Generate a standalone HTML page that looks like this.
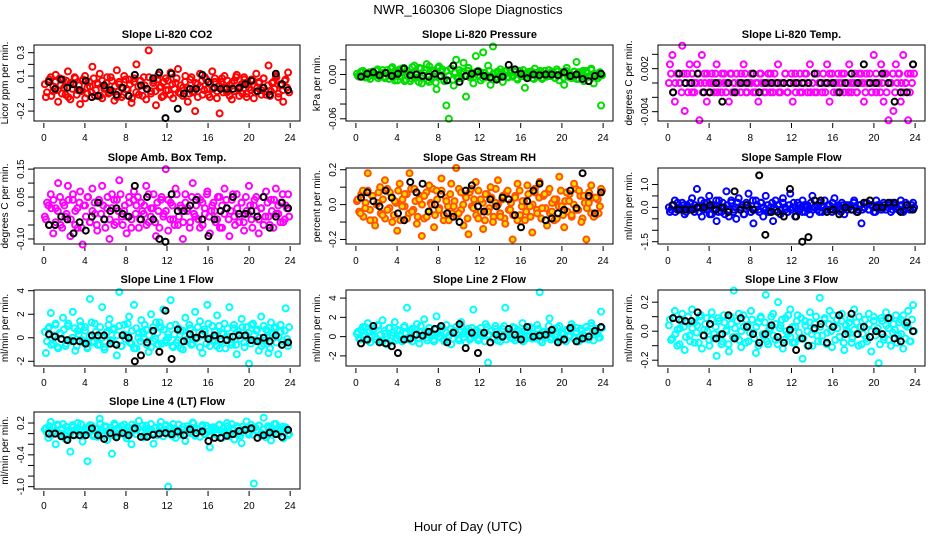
<!DOCTYPE html>
<html><head><meta charset="utf-8"><style>
html,body{margin:0;padding:0;background:#fff;}
svg{display:block;font-family:"Liberation Sans",sans-serif;}
</style></head><body>
<svg id="chart" width="936" height="540" viewBox="0 0 936 540">
<text x="468" y="14" font-size="13" text-anchor="middle">NWR_160306  Slope Diagnostics</text>
<text x="468" y="531" font-size="13" text-anchor="middle">Hour of Day (UTC)</text>
</svg>
<script>
const hourTicks = [0,4,8,12,16,20,24];
const co2Color = [-8,5,9,-3,11,-12,2,7,-6,14,-10,3,8,-2,-14,6,10,-5,1,18,-7,4,12,-9,0,9,-4,6,-11,15,3,-8,10,-1,7,-13,5,20,-6,2,9,-10,32,-3,6,-15,11,1,-7,8,-2,13,-9,4,16,-5,0,10,-12,7,-4,-20,3,12,-6,9,-1,-8,14,5,-3,-22,8,10,-4,2,-10,6,11,-7,3,9,-5,0,7,-9,12,4,-2,8,-6,19,-3,5,10,-8,2,-12,7,13];
const co2Core = [3,-4,7,-7,1,5,-2,8,-5,0,6,-8,4,-1,9,-6,2,-3,7,-9,0,5,-4,8,-2,3,-7,6,-1,4,-5,9,-3,1,-8,5,0,-6,7,-2,3,-9,8,-4,1,6,-7,2,-1,9,-5,4,-3,7,0,-8,5,-2,6,-6,3,-1,8,-4,2,-7,5,0,-5,9,-3,4,-8,1,6,-2,7,-6,3,-1,8,-9,2,5,-4,0,6,-7,4,-3,9,-1,1,-5,7,-8,3,-2,6,-4,0,5,-6,8,-3,2,-7,4,-1,9,-5,3,-2,6,0,-4];
const co2Black = [5,-1,7,0,3,-2,6,-8,-7,2,-2,-6,0,-7,11,2,-1,8,13,-26,12,-18,-5,-1,-1,11,5,0,-1,-1,-1,0,3,6,-3,0,-6,12,3,-2];
const presColor = [-2,3,5,-4,1,-6,4,0,7,-3,2,-5,6,-1,10,-8,3,-2,8,-9,5,1,-6,12,-4,9,-12,2,14,-10,6,-3,-20,11,4,-7,-42,-60,8,-15,20,-5,3,16,-30,9,-2,-12,25,5,-8,30,-4,12,-14,38,2,-6,7,-10,4,-3,6,-1,3,-7,5,-2,-18,1,4,-5,8,-3,2,-6,5,0,-2,4,-4,7,-8,3,-14,9,-1,-5,4,17,-6,2,-9,5,-3,8,-12,1,-2,-42];
const presCore = [1,-3,4,-1,2,-4,3,0,-2,5,-5,1,6,-3,2,-6,8,-4,5,-8,7,-2,9,-7,4,-9,10,-5,3,-10,8,-1,6,-8,11,-6,4,-11,9,-3,7,-9,5,-2,8,-7,3,-4,6,-5,4,-2,5,-4,2,-3,4,-1,3,-5,2,-2,5,-3,1,-4,4,-2,3,-1,5,-4,2,-3,4,-5,1,-2,6,-3,3,-1,4,-6,2,-2,5,-4,1,-3,6,-2,3,-5,4,-1,2,-4,5,-3,1,-2,4,-6,3,-1,5,-4,2,-3,6,-2,1,-5,3,-1];
const presBlack = [-3,1,3,-1,2,-2,1,8,-1,0,-2,-3,1,-2,-8,12,-10,-2,1,4,-2,-4,-7,-3,13,7,1,-5,0,-1,0,0,-1,3,-2,0,-6,-9,-2,1];
const tempColor = [26,39,-26,13,0,52,-39,13,26,-13,0,26,-52,39,13,-26,0,13,-13,26,0,-13,13,0,-26,13,0,-13,0,13,26,-13,0,13,-13,0,-26,13,0,-13,0,13,-13,0,26,-13,0,13,-13,0,-26,13,0,-13,0,13,-13,26,0,-13,13,0,-13,0,26,-26,13,0,-13,0,13,-13,0,26,-13,0,-13,13,0,-26,13,0,-13,39,-13,0,26,-26,13,-52,0,-39,26,13,-26,39,0,-52,13,26];
const tempCore = [0,13,-13,0,13,0,-13,13,0,-13,0,13,-13,0,13,0,-13,0,13,-13,0,0,13,-13,0,13,0,-13,0,13,-13,0,13,0,-13,0,13,-13,0,0,13,-13,0,13,0,-13,0,13,-13,0,13,0,-13,0,0,13,-13,0,13,0,-13,0,13,-13,0,13,0,-13,0,13,-13,0,0,13,-13,0,13,0,-13,0,13,-13,0,13,0,-13,0,0,13,-13,0,13,0,-13,0,13,-13,0,13,0,-13,0,13,-13,0,0,13,-13,0,13,0,-13,0,13,-13,0,13];
const tempBlack = [-13,13,0,0,13,-13,-13,0,-26,0,-13,0,0,13,-13,0,0,0,0,0,0,0,0,13,0,0,0,-13,0,13,0,26,0,0,13,0,-26,-13,-13,26];
const ambColor = [-3,2,6,-8,1,10,-5,3,-2,9,-9,4,0,-6,7,-12,2,5,-4,8,-1,-7,3,9,-3,1,-10,6,-5,4,11,-2,0,-8,5,-3,7,2,-6,3,-1,9,-4,1,6,-9,0,4,-2,15,-7,3,-3,8,-5,2,-10,6,1,-4,10,-2,5,-6,3,-1,7,-8,2,0,-3,5,-6,8,1,-9,4,-2,6,-4,3,-7,0,9,-3,2,5,-8,1,-5,7,-2,4,-6,8,-1,3,-4,2,6];
const ambCore = [-2,3,-5,1,4,-4,0,5,-6,2,-1,4,-3,6,-5,1,3,-6,2,-2,5,-4,0,3,-5,4,-1,2,-6,5,-3,1,4,-4,0,6,-5,2,-2,3,-6,4,-1,5,-3,0,2,-5,6,-2,1,-4,3,-6,5,-1,0,4,-3,2,-5,6,-2,1,-4,3,0,-6,5,-1,2,-3,4,-5,1,6,-2,0,3,-4,5,-6,2,-1,4,-3,0,6,-5,1,-2,3,-4,5,-1,2,-6,4,0,-3,1,5,-2,3,-5,0,4,-1,2,-4,6,-3,1,-2];
const ambBlack = [-5,-5,-2,-3,-8,-4,-7,-2,3,-3,0,1,-1,-2,9,-3,5,-3,-10,-11,6,0,0,2,4,-3,-9,-3,0,1,5,-1,-1,0,-2,5,-6,-2,3,1];
const rhColor = [3,-5,8,-2,18,-9,5,-12,1,10,-6,14,-3,7,-10,2,-15,12,-1,6,-8,18,-4,9,-11,3,-18,5,-7,11,0,-13,8,-3,15,-6,2,-9,12,-1,21,-5,7,-12,4,-17,9,-2,13,-8,3,-14,6,-4,10,-10,1,14,-7,5,-11,8,-3,-20,4,12,-6,2,-9,11,-1,-16,7,-5,13,-2,6,-12,9,-4,3,-8,16,-1,-13,7,2,-6,12,-3,8,-10,5,-20,1,11,-7,4,-5,9];
const rhCore = [2,-4,6,-7,1,8,-3,5,-9,0,7,-5,3,-8,9,-2,4,-6,1,8,-9,3,-1,6,-5,9,-3,2,-7,5,0,-8,7,-4,1,9,-6,3,-2,8,-9,4,-1,6,-5,2,-7,9,-3,0,5,-8,7,-1,3,-6,8,-4,1,-9,6,-2,4,-7,9,0,-5,3,-8,7,-3,1,-6,5,-9,8,-1,2,-4,6,-7,0,9,-3,4,-8,5,-2,7,-5,1,-9,3,-1,8,-6,2,-4,6,-7,0,9,-3,5,-8,1,-2,7,-5,4,-6,3,-1,8];
const rhBlack = [4,7,2,-1,8,4,-5,-9,13,7,12,-4,0,6,-5,-7,-10,8,11,-1,-4,3,-1,4,3,-6,-13,2,8,12,-9,-8,-5,-3,8,-2,18,5,-5,7];
const sampColor = [-2,1,3,-1,0,2,-3,1,-1,4,-2,8,0,-4,2,-1,5,-3,1,-6,3,-2,0,7,-4,2,-1,-5,4,0,-3,1,6,-2,-7,3,-1,2,-4,5,-2,0,-6,3,1,-3,4,-1,-2,6,0,-4,2,-1,3,-2,1,-3,5,0,-1,2,-2,3,-1,1,-2,4,0,-1,2,-3,1,0,-1,3,-2,1,-7,0,2,-1,1,-2,3,0,-1,2,-1,1,-2,2,0,-1,3,-2,1,0,-1,2];
const sampCore = [0,-1,1,-2,2,0,-1,1,-2,0,2,-1,1,0,-2,3,-1,0,2,-3,1,-1,3,-2,0,2,-3,1,-1,3,-2,0,2,-1,1,-3,2,0,-2,3,-1,1,-2,2,0,-1,1,-2,2,0,-1,1,-1,2,0,-2,1,-1,2,0,-1,1,-2,1,0,-1,2,-1,0,1,-2,1,0,-1,1,-1,2,0,-1,1,-2,1,0,-1,1,-1,2,0,-1,1,-1,0,2,-1,1,0,-2,1,0,-1,1,-1,0,2,-1,1,0,-1,1,-1,2,0,-1,1,0];
const sampBlack = [1,-1,-1,-1,0,0,1,-1,0,-2,7,-1,1,-1,14,-12,-2,-2,-4,8,-4,-15,-13,3,3,-2,-1,-3,0,-1,-2,2,3,0,0,2,2,-2,1,-1];
const l1Color = [-13,8,21,-5,12,-9,3,17,-7,10,-3,22,-11,6,14,-2,9,-8,33,-4,12,0,-6,26,-10,5,16,-3,8,-15,39,-7,11,2,18,-5,28,-9,4,15,-1,7,-12,20,-3,13,-6,9,24,-4,3,32,-8,11,-2,6,-10,17,-1,8,-5,22,0,14,-13,5,28,-7,10,-3,19,-9,4,12,-1,26,-6,8,-14,3,16,-4,9,-22,11,-2,6,-11,18,-5,7,-13,13,0,9,-14,5,-3,25,-7];
const l1Core = [5,-3,9,-6,2,11,-8,4,-1,7,-5,12,-2,0,8,-7,3,10,-4,6,-9,1,13,-3,5,-6,9,0,-8,4,11,-2,7,-5,2,10,-7,3,-1,12,-4,6,-9,8,0,-3,5,11,-6,2,-8,9,-1,4,13,-5,7,-2,0,10,-7,3,-4,8,-9,6,1,-3,11,-6,4,-1,9,-8,2,7,-5,12,0,-2,5,-7,10,-3,3,-9,8,1,-4,11,-6,6,-1,9,-8,2,4,-5,12,-3,7,0,-7,10,-2,5,-9,3,8,-4,1,11,-6,6,-1,9];
const l1Black = [3,1,-1,-2,-3,-3,-5,2,2,2,-5,-6,2,0,-20,-15,-4,6,-12,23,-18,7,-3,3,0,3,-1,2,-1,-2,1,2,2,-2,-3,0,-3,2,-6,-4];
const l2Color = [5,-3,10,2,14,-6,7,0,12,-4,17,3,-8,9,1,15,-2,6,-5,11,30,-3,8,2,13,-7,5,18,-1,9,4,-5,21,0,7,-3,12,1,-8,6,10,-2,15,3,-6,8,-1,28,4,-4,9,2,13,-27,6,-2,11,0,-5,8,30,3,-1,10,-4,7,1,14,-3,6,0,9,-2,12,46,-6,5,2,19,-1,8,-4,11,3,-3,7,0,13,-2,9,-5,6,1,10,-3,14,4,8,-1,26];
const l2Core = [3,-2,7,0,10,-4,5,1,8,-3,11,2,-5,6,0,9,-2,4,-4,7,1,-3,10,3,-1,6,-5,8,2,-2,11,0,5,-4,9,1,-3,7,3,-1,10,-5,4,0,8,-2,6,2,-4,11,-1,5,3,-3,9,0,7,-2,4,1,-5,10,2,6,-1,8,-4,3,0,11,-3,5,2,-2,9,-1,6,4,-5,7,0,10,-2,3,1,8,-4,5,2,-1,11,-3,6,0,9,-2,4,3,-5,7,1,10,-1,5,-3,8,2,-2,6,0,11,-4,4,3,-1,9];
const l2Black = [-7,-3,11,-6,-7,-10,-17,-3,-2,2,1,5,8,11,-6,4,13,-12,4,-17,4,-6,2,0,8,2,-3,10,0,1,2,7,-6,-3,9,-5,-2,0,6,10];
const l3Color = [8,-5,14,-10,2,12,-13,6,-3,15,-8,4,10,-12,1,9,-6,13,-2,-17,7,-9,11,0,-14,5,28,-4,12,-11,3,8,-7,14,-1,-15,6,10,-3,25,-9,2,12,-6,20,4,-12,9,-2,15,-8,3,11,-5,-19,7,0,13,-10,5,-3,23,-7,9,-1,14,-11,4,8,-4,12,-13,1,6,-8,15,-2,10,-9,3,-5,12,-14,7,0,-22,9,-6,13,2,-10,5,11,-3,8,-12,4,14,-7,18];
const l3Core = [4,-6,9,-2,1,-9,7,3,-4,10,-7,2,6,-1,-8,11,-3,5,0,-10,8,-5,3,9,-2,-7,6,1,-9,10,-4,2,7,-6,0,11,-8,4,-1,8,-5,3,-10,9,-2,6,-7,1,10,-3,5,-9,2,8,-6,0,11,-4,3,-8,7,-1,9,-5,4,-10,6,-2,1,10,-7,3,-3,8,-9,5,0,11,-6,2,-4,7,-8,4,-1,9,-5,1,6,-10,3,-2,8,-7,5,0,10,-3,2,-9,7,-4,4,-6,9,-1,1,-8,6,-2,11,-5,3,-7,8,0];
const l3Black = [9,8,7,7,13,-3,5,-5,-2,11,-5,9,3,-2,-8,-2,4,-4,-8,1,-13,-5,-10,2,5,-8,3,11,-2,12,-2,3,-4,0,-2,9,-5,-7,6,0];
const l4Color = [10,-8,22,4,-20,15,0,18,-10,5,-34,12,-3,20,8,-15,3,-52,16,-2,10,-6,28,1,14,-12,6,-38,19,-4,9,2,17,-9,5,-20,12,-1,24,3,-7,15,-3,8,-19,11,0,22,-5,14,-100,2,18,-8,6,-2,13,-14,9,1,21,-4,7,-6,16,-1,10,-26,5,12,-3,17,-8,3,20,-5,9,-11,14,0,-18,8,23,-2,11,-94,6,15,-4,30,-7,10,-13,4,18,-1,7,-9,12,-3];
const l4Core = [8,2,14,-3,11,5,17,0,9,-4,13,6,1,16,-2,10,4,18,-1,7,12,3,15,-5,9,1,19,6,-2,13,4,11,-3,16,8,0,14,5,-4,12,2,17,7,-1,10,3,15,-2,9,6,18,1,11,-3,13,4,8,16,0,12,-4,10,5,17,2,7,-1,14,3,11,19,-2,9,6,13,0,15,4,-3,12,8,1,16,5,10,-1,14,3,18,7,0,11,-4,13,6,9,2,17,-2,12,4,15,1,8,-3,14,5,10,18,0,11,6,13,3,9,-1];
const l4Black = [0,0,-5,-12,-3,-3,-3,10,-3,-10,1,-7,1,-3,10,-6,-6,-2,0,1,-1,4,-3,8,1,4,-14,-8,-8,-4,-1,5,7,10,-8,-3,2,-1,-6,7];

const co2Ticks=[-0.2,-0.1,0,0.1,0.2,0.3], co2Labels=['-0.2','','','0.1','','0.3'];
const presTicks=[-0.06,-0.04,-0.02,0,0.02], presLabels=['-0.06','','','0.00',''];
const tempTicks=[-0.004,-0.002,0,0.002,0.004], tempLabels=['-0.004','','','0.002',''];
const ambTicks=[-0.1,-0.05,0,0.05,0.1,0.15], ambLabels=['-0.10','','','0.05','','0.15'];
const rhTicks=[-0.2,-0.1,0,0.1,0.2], rhLabels=['-0.2','','0.0','','0.2'];
const sampTicks=[-1.5,-1,-0.5,0,0.5,1], sampLabels=['-1.5','','','0.0','','1.0'];
const l1Ticks=[-2,0,2,4], l1Labels=['-2','0','2','4'];
const l2Ticks=[-2,0,2,4], l2Labels=['-2','0','2','4'];
const l3Ticks=[-0.2,-0.1,0,0.1,0.2], l3Labels=['-0.2','','0.0','','0.2'];
const l4Ticks=[-1,-0.8,-0.6,-0.4,-0.2,0,0.2], l4Labels=['-1.0','','','-0.4','','','0.2'];

const NS='http://www.w3.org/2000/svg';
const svg=document.getElementById('chart');
function mk(tag,attrs,parent){const e=document.createElementNS(NS,tag);for(const k in attrs)e.setAttribute(k,attrs[k]);(parent||svg).appendChild(e);return e;}
const colX=[[34,300],[346,613],[658,925]];
const rowY=[[45,121],[168,244],[290,366],[412,489]];
const panels=[
 {key:'co2',title:'Slope Li-820 CO2',ylab:'Licor ppm per min.',c:co2Color,d:co2Core,b:co2Black,s:0.01,col:'#ff0000',lo:-0.285,hi:0.366,t:co2Ticks,l:co2Labels,r:0,k:0},
 {key:'pressure',title:'Slope Li-820 Pressure',ylab:'kPa per min.',c:presColor,d:presCore,b:presBlack,s:0.001,col:'#00dd00',lo:-0.063,hi:0.04,t:presTicks,l:presLabels,r:0,k:1},
 {key:'temp',title:'Slope Li-820 Temp.',ylab:'degrees C per min.',c:tempColor,d:tempCore,b:tempBlack,s:0.0001,col:'#ff00ff',lo:-0.0053,hi:0.0053,t:tempTicks,l:tempLabels,r:0,k:2},
 {key:'amb-box',title:'Slope Amb. Box Temp.',ylab:'degrees C per min.',c:ambColor,d:ambCore,b:ambBlack,s:0.01,col:'#ff00ff',lo:-0.118,hi:0.154,t:ambTicks,l:ambLabels,r:1,k:0},
 {key:'gas-rh',title:'Slope Gas Stream RH',ylab:'percent per min.',c:rhColor,d:rhCore,b:rhBlack,s:0.01,col:'#ff5500',lo:-0.226,hi:0.21,t:rhTicks,l:rhLabels,r:1,k:1,fill:'#ffdd00'},
 {key:'sample-flow',title:'Slope Sample Flow',ylab:'ml/min per min.',c:sampColor,d:sampCore,b:sampBlack,s:0.1,col:'#0000ff',lo:-1.6,hi:1.72,t:sampTicks,l:sampLabels,r:1,k:2},
 {key:'line1',title:'Slope Line 1 Flow',ylab:'ml/min per min.',c:l1Color,d:l1Core,b:l1Black,s:0.1,col:'#00ffff',lo:-2.4,hi:4.06,t:l1Ticks,l:l1Labels,r:2,k:0},
 {key:'line2',title:'Slope Line 2 Flow',ylab:'ml/min per min.',c:l2Color,d:l2Core,b:l2Black,s:0.1,col:'#00ffff',lo:-3.05,hi:4.84,t:l2Ticks,l:l2Labels,r:2,k:1},
 {key:'line3',title:'Slope Line 3 Flow',ylab:'ml/min per min.',c:l3Color,d:l3Core,b:l3Black,s:0.01,col:'#00ffff',lo:-0.24,hi:0.284,t:l3Ticks,l:l3Labels,r:2,k:2},
 {key:'line4',title:'Slope Line 4 (LT) Flow',ylab:'ml/min per min.',c:l4Color,d:l4Core,b:l4Black,s:0.01,col:'#00ffff',lo:-1.044,hi:0.408,t:l4Ticks,l:l4Labels,r:3,k:0}
];
panels.forEach(p=>{
  const [x0,x1]=colX[p.k],[y0,y1]=rowY[p.r];
  const g=mk('g',{});
  
  
  const xs=h=>x0+(x1-x0)*(h+0.96)/25.92;
  const ys=v=>y1-(y1-y0)*(v-p.lo)/(p.hi-p.lo);
  const tt=mk('text',{x:(x0+x1)/2,y:y0-7,'font-size':11,'font-weight':'bold','text-anchor':'middle'},g);
  tt.textContent=p.title;
  
  
  const yl=mk('text',{transform:`translate(${x0-26},${(y0+y1)/2}) rotate(-90)`,'font-size':10,'text-anchor':'middle'},g);
  yl.textContent=p.ylab;
  
  
  hourTicks.forEach(h=>{
    const x=xs(h);
    mk('line',{x1:x,x2:x,y1:y1+2,y2:y1+7,stroke:'#000','stroke-width':1},g);
    const t=mk('text',{x:x,y:y1+20,'font-size':10,'text-anchor':'middle'},g);
    t.textContent=h;
    
    
  });
  p.t.forEach((v,i)=>{
    const y=ys(v);
    mk('line',{x1:x0-6,x2:x0,y1:y,y2:y,stroke:'#000','stroke-width':1},g);
    if(p.l[i]){
      const t=mk('text',{transform:`translate(${x0-10},${y}) rotate(-90)`,'font-size':10,'text-anchor':'middle'},g);
      t.textContent=p.l[i];
      
      
    }
  });
  const nd=p.d.length;
  p.d.forEach((v,i)=>{
    const h=0.1+i*23.8/(nd-1);
    const c=mk('circle',{cx:xs(h),cy:ys(v*p.s),r:3,fill:p.fill||'none',stroke:p.col,'stroke-width':2},g);
    
    
  });
  const nc=p.c.length;
  p.c.forEach((v,i)=>{
    const h=0.2+i*23.6/(nc-1);
    const c=mk('circle',{cx:xs(h),cy:ys(v*p.s),r:3,fill:p.fill||'none',stroke:p.col,'stroke-width':2},g);
    
    
  });
  const nb=p.b.length;
  p.b.forEach((v,i)=>{
    const h=0.5+i*23.3/(nb-1);
    const c=mk('circle',{cx:xs(h),cy:ys(v*p.s),r:3,fill:'none',stroke:'#000','stroke-width':2},g);
    
    
  });
  const box=mk('rect',{x:x0,y:y0,width:x1-x0,height:y1-y0,fill:'none',stroke:'#000','stroke-width':1},g);
  
  
});
</script>
</body></html>
